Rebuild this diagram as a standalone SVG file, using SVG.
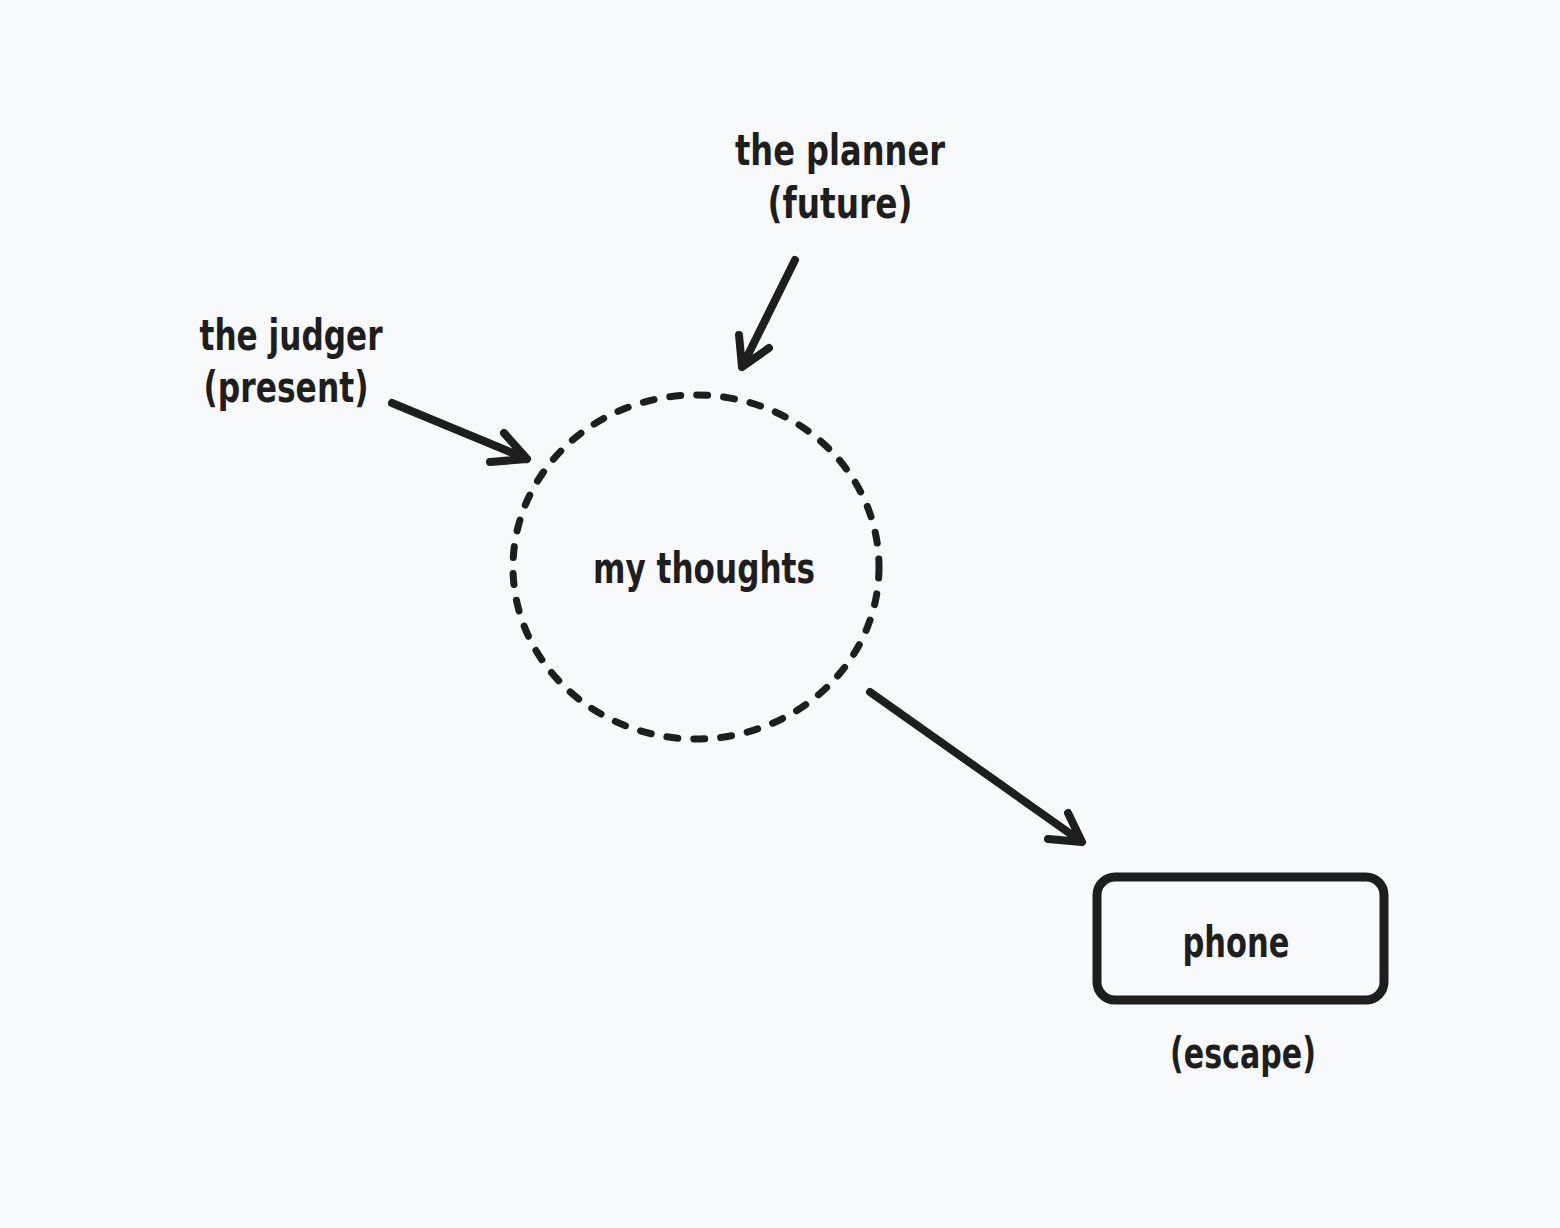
<svg xmlns="http://www.w3.org/2000/svg" width="1560" height="1228" viewBox="0 0 1560 1228">
<style>
.t{font-family:"DejaVu Sans Condensed","DejaVu Sans",sans-serif;font-weight:bold;font-size:42px;fill:#1e1e1e;text-anchor:middle}
.ln{fill:none;stroke:#1e1e1e;stroke-width:8;stroke-linecap:round;stroke-linejoin:round}
</style>
<rect width="1560" height="1228" fill="#f8f9fb"/>
<g id="planner">
<text class="t" x="840" y="165" textLength="210" lengthAdjust="spacingAndGlyphs">the planner</text>
<text class="t" x="840" y="218" textLength="145" lengthAdjust="spacingAndGlyphs">(future)</text>
</g>
<g id="judger">
<text class="t" x="291" y="350" textLength="183" lengthAdjust="spacingAndGlyphs">the judger</text>
<text class="t" x="286" y="402" textLength="165" lengthAdjust="spacingAndGlyphs">(present)</text>
</g>
<g id="thoughts">
<ellipse cx="696" cy="567" rx="183" ry="172" fill="none" stroke="#1e1e1e" stroke-width="7" stroke-dasharray="11 16" stroke-linecap="round"/>
<text class="t" x="704" y="583" textLength="222" lengthAdjust="spacingAndGlyphs">my thoughts</text>
</g>
<g id="phone">
<rect x="1097" y="877" width="287" height="123" rx="18" fill="none" stroke="#1e1e1e" stroke-width="9"/>
<text class="t" x="1236" y="957" textLength="107" lengthAdjust="spacingAndGlyphs">phone</text>
</g>
<g id="escape">
<text class="t" x="1243" y="1068" textLength="146" lengthAdjust="spacingAndGlyphs">(escape)</text>
</g>
<g id="connectors">
<path class="ln" d="M392 403 L527 459 M504 433 L527 459 L490 462"/>
<path class="ln" d="M795 260 L742 367 M739 335 L742 367 L769 348"/>
<path class="ln" d="M870 692 L1082 842 M1068 813 L1082 842 L1048 839"/>
</g>
</svg>
